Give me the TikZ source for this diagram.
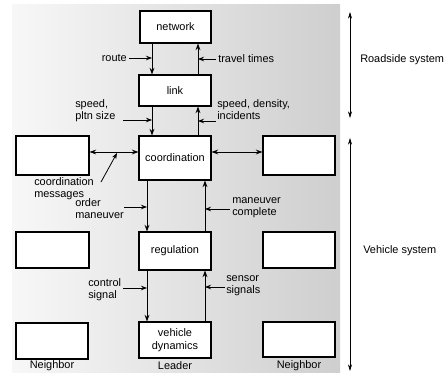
\documentclass[tikz,border=0pt]{standalone}
\usepackage{fontspec}
\setmainfont{Liberation Sans}
\usetikzlibrary{arrows.meta,calc}
\begin{document}
\begin{tikzpicture}[x=0.75pt,y=-0.75pt,
  font=\fontsize{8.2}{9.6}\selectfont,
  box/.style 2 args={draw=black,fill=white,line width=0.8pt,minimum width=#1*0.75pt,minimum height=#2*0.75pt,inner sep=1pt,align=center},
  lbl/.style={inner sep=0pt,align=left},
  flow/.style={line width=0.7pt,-{Stealth[length=5pt,width=3.6pt]}},
  bflow/.style={line width=0.7pt,{Stealth[length=5pt,width=3.6pt]}-{Stealth[length=5pt,width=3.6pt]}},
  ptr/.style={line width=0.6pt,-{Stealth[length=4.5pt,width=3.4pt]}},
  sysarrow/.style={line width=0.5pt,{Stealth[length=5pt,width=3pt]}-{Stealth[length=5pt,width=3pt]}}]
\useasboundingbox (0,0) rectangle (447,372);
% halftone-like background
\shade[left color=gray!6,right color=gray!38,draw=none] (12,4) rectangle (340,372);

% main column
\node[box={71}{32}] (network) at (175.5,27) {network};
\node[box={72}{31}] (link) at (175,90.5) {link};
\node[box={72}{44}] (coord) at (175,158) {coordination};
\node[box={72}{38}] (reg) at (175,251) {regulation};
\node[box={72}{36}] (veh) at (175,340) {vehicle\\dynamics};

% neighbours
\node[box={73}{39}] (L1) at (52.5,155.5) {};
\node[box={73}{36}] (L2) at (52.5,250) {};
\node[box={72}{36}] (L3) at (52,341) {};
\node[box={72}{39}] (R1) at (299,155.5) {};
\node[box={72}{36}] (R2) at (299,250) {};
\node[box={72}{35}] (R3) at (299,339.5) {};

% column coordinates
\coordinate (xa) at (152,0);
\coordinate (xb) at (198,0);
\coordinate (xc) at (147,0);
\coordinate (xd) at (205,0);
\coordinate (ym) at (0,152);

% vertical flows
\draw[flow] (network.south -| xa) -- (link.north -| xa);
\draw[flow] (link.north -| xb) -- (network.south -| xb);
\draw[flow] (link.south -| xa) -- (coord.north -| xa);
\draw[flow] (coord.north -| xb) -- (link.south -| xb);
\draw[flow] (coord.south -| xc) -- (reg.north -| xc);
\draw[flow] (reg.north -| xd) -- (coord.south -| xd);
\draw[flow] (reg.south -| xc) -- (veh.north -| xc);
\draw[flow] (veh.north -| xd) -- (reg.south -| xd);

% horizontal flows
\draw[bflow] (L1.east |- ym) -- (coord.west |- ym);
\draw[bflow] (coord.east |- ym) -- (R1.west |- ym);

% labels
\node[lbl,anchor=east] (route) at (127,58) {route};
\coordinate (routeT) at (152,58);
\draw[ptr] (route.east) ++(2,0) -- (routeT);

\node[lbl,anchor=west] (travel) at (218,59) {travel times};
\coordinate (travelT) at (198,59);
\draw[ptr] (travel.west) ++(-2,0) -- (travelT);

\node[lbl,anchor=north west] (spd) at (75,99) {speed,\\pltn size};
\coordinate (spdS) at (123,120);
\coordinate (spdT) at (152,120);
\draw[ptr] (spdS) -- (spdT);

\node[lbl,anchor=north west] (sdi) at (217,99) {speed, density,\\incidents};
\coordinate (sdiS) at (216,121);
\coordinate (sdiT) at (198,121);
\draw[ptr] (sdiS) -- (sdiT);

\node[lbl,anchor=north west] (cm) at (34,177) {coordination\\messages};
\coordinate (cmS) at (101,182);
\coordinate (cmT) at (117,153);
\draw[ptr] (cmS) -- (cmT);

\node[lbl,anchor=north west] (om) at (75,198) {order\\maneuver};
\coordinate (omS) at (124,207);
\coordinate (omT) at (147,207);
\draw[ptr] (omS) -- (omT);

\node[lbl,anchor=north west] (mc) at (232,197) {maneuver\\complete};
\coordinate (mcS) at (230,209);
\coordinate (mcT) at (205,209);
\draw[ptr] (mcS) -- (mcT);

\node[lbl,anchor=north west] (cs) at (88,278) {control\\signal};
\coordinate (csS) at (123,288);
\coordinate (csT) at (147,288);
\draw[ptr] (csS) -- (csT);

\node[lbl,anchor=north west] (ss) at (226,275) {sensor\\signals};
\coordinate (ssS) at (225,287);
\coordinate (ssT) at (205,287);
\draw[ptr] (ssS) -- (ssT);

% bottom labels
\node[inner sep=0pt] (n1) at (52,366) {Neighbor};
\node[inner sep=0pt] (ld) at (175,366) {Leader};
\node[inner sep=0pt] (n2) at (299,366) {Neighbor};

% system ranges
\coordinate (rsT) at (350,12);
\coordinate (rsB) at (350,118);
\draw[sysarrow] (rsT) -- (rsB);
\node[inner sep=0pt,anchor=west] (rs) at (360,60) {Roadside system};
\coordinate (vsT) at (350,138);
\coordinate (vsB) at (350,371);
\draw[sysarrow] (vsT) -- (vsB);
\node[inner sep=0pt,anchor=west] (vs) at (363,251) {Vehicle system};
\end{tikzpicture}
\end{document}
